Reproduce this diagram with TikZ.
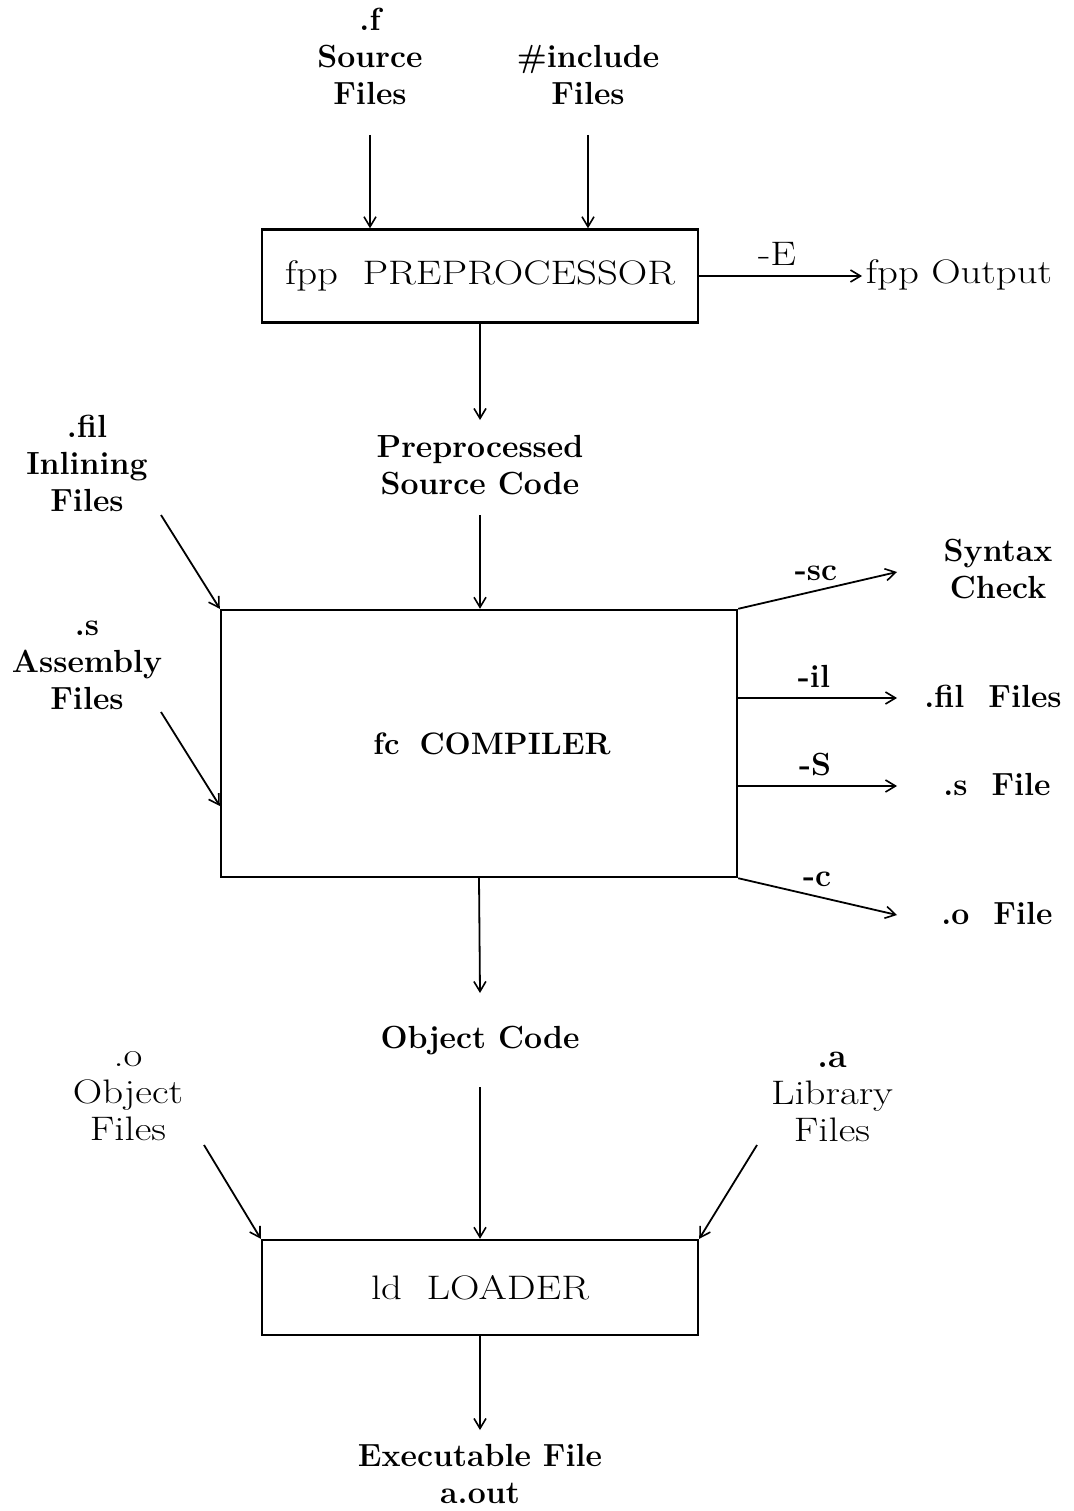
\documentclass[tikz,border=0pt]{standalone}
\usepackage{graphicx}
\usetikzlibrary{arrows.meta}
\newcommand\wideR[1]{\scalebox{1.2}[1]{#1}}
\begin{document}
\begin{tikzpicture}[x=1pt,y=-1pt,
  bf/.style={font=\fontsize{32}{37}\selectfont\bfseries, align=center, inner sep=0pt, anchor=base},
  rm/.style={font=\fontsize{34}{37}\selectfont, align=center, inner sep=0pt, anchor=base},
  box/.style={draw, line width=2.4pt, inner sep=0pt, font=\fontsize{34}{37}\selectfont},
  arr/.style={line width=1.8pt, -{Straight Barb[length=10pt,width=12pt,line width=1.6pt]}}]
\useasboundingbox (0,0) rectangle (1073,1511);
% boxes
\node[box, minimum width=436pt, minimum height=93pt] (pre) at (480,276) {\wideR{fpp\ \ PREPROCESSOR}};
\node[box, minimum width=516pt, minimum height=267pt, font=\fontsize{31}{37}\selectfont\bfseries] (comp) at (479,743.5) {\hspace*{26pt}fc\hspace{20pt}COMPILER};
\node[box, minimum width=436pt, minimum height=95pt] (ld) at (480,1287.5) {\wideR{ld\ \ LOADER}};
% texts
\node[bf] (src) at (370,105) {.f\\Source\\Files};
\node[bf] (inc) at (588,105) {\#include\\Files};
\node[rm] (fppout) at (959,284) {\wideR{fpp Output}};
\node[rm] (Elbl) at (777,266) {\wideR{-E}};
\node[bf] (ppsrc) at (480,494) {Preprocessed\\Source Code};
\node[bf] (fil) at (87,511) {.fil\\Inlining\\Files};
\node[bf] (asm) at (87,709) {.s\\Assembly\\Files};
\node[bf] (syn) at (998,598) {Syntax\\Check};
\node[bf] (filout) at (993,707) {.fil\ \ Files};
\node[bf] (sout) at (997,795) {.s\ \ File};
\node[bf] (oout) at (997,924) {.o\ \ File};
\node[bf] (sclbl) at (816,580) {-sc};
\node[bf] (illbl) at (814,687) {-il};
\node[bf] (Slbl) at (815,775) {-S};
\node[bf] (clbl) at (817,886) {-c};
\node[bf] (objcode) at (480,1048) {Object Code};
\node[rm] (objf) at (128,1140) {\wideR{.o}\\\wideR{Object}\\\wideR{Files}};
\node[rm] (libf) at (832,1141) {\textbf{.a}\\\wideR{Library}\\\wideR{Files}};
\node[bf] (exe) at (480,1503) {Executable File\\a.out};
% free ends
\coordinate (srcA) at (370,135);
\coordinate (incA) at (588,135);
\coordinate (Eend) at (862,276);
\coordinate (ppTop) at (480,420);
\coordinate (ppBot) at (480,515);
\coordinate (filA) at (161,515);
\coordinate (asmA) at (161,712);
\coordinate (scEnd) at (897,572);
\coordinate (ilEnd) at (897,698);
\coordinate (SEnd) at (897,786);
\coordinate (cEnd) at (897,915);
\coordinate (ocTop) at (480,993);
\coordinate (ocBot) at (480,1087);
\coordinate (objA) at (204,1145);
\coordinate (libA) at (757,1145);
\coordinate (exeTop) at (480,1430);
% connectors
\draw[arr] (srcA) -- (srcA |- pre.north);
\draw[arr] (incA) -- (incA |- pre.north);
\draw[arr] (pre.east) -- (Eend);
\draw[arr] (pre.south) -- (ppTop);
\draw[arr] (ppBot) -- (ppBot |- comp.north);
\draw[arr] (filA) -- (comp.north west);
\draw[arr] (asmA) -- ([yshift=-62.5pt]comp.west);
\draw[arr] (comp.north east) -- (scEnd);
\draw[arr] ([yshift=45.5pt]comp.east) -- (ilEnd);
\draw[arr] ([yshift=-42.5pt]comp.east) -- (SEnd);
\draw[arr] (comp.south east) -- (cEnd);
\draw[arr] (comp.south) -- (ocTop);
\draw[arr] (ocBot) -- (ld.north);
\draw[arr] (objA) -- (ld.north west);
\draw[arr] (libA) -- (ld.north east);
\draw[arr] (ld.south) -- (exeTop);
\end{tikzpicture}
\end{document}
